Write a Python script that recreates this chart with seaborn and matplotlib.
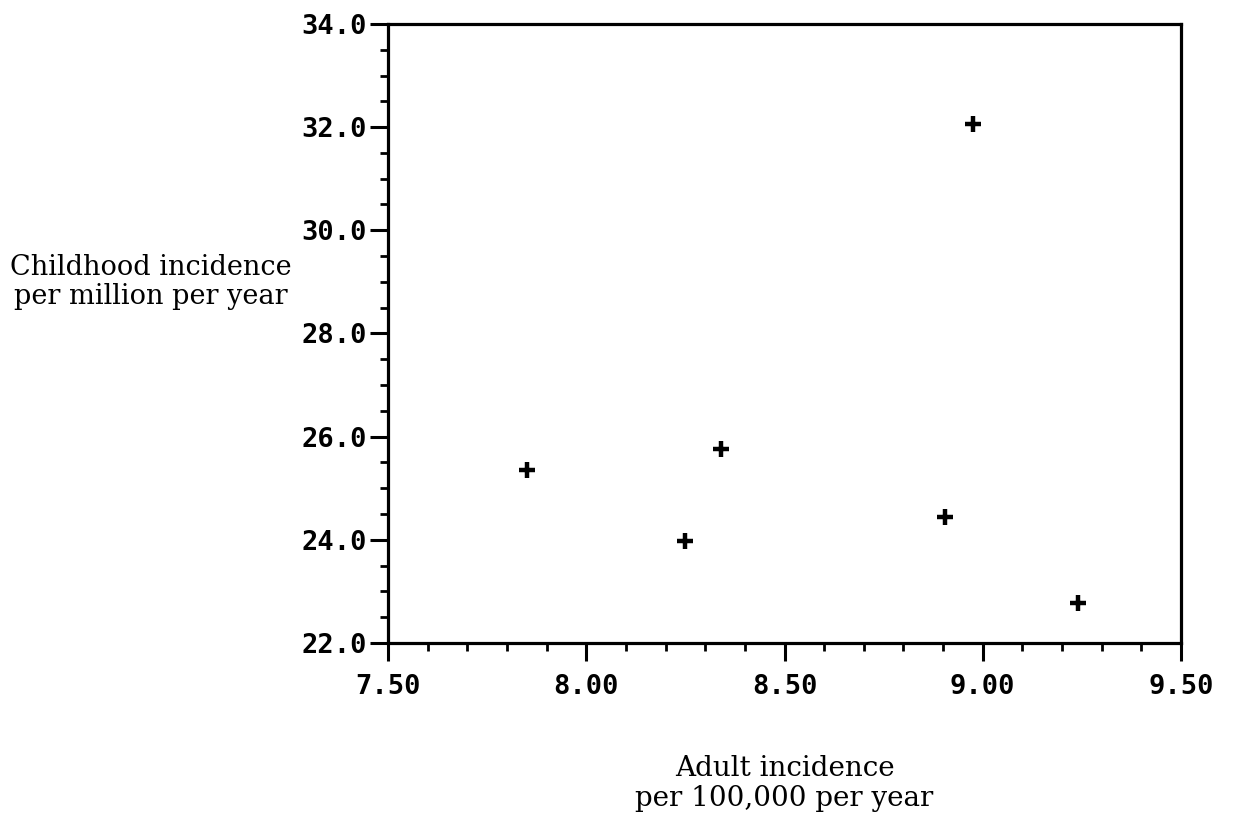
import matplotlib
matplotlib.use("Agg")
import matplotlib.pyplot as plt
import seaborn as sns
import pandas as pd
from matplotlib.ticker import MultipleLocator, FormatStrFormatter

# values
adult_incidence = [7.85, 8.25, 8.34, 8.905, 8.975, 9.24]
child_incidence = [25.35, 23.98, 25.76, 24.45, 32.06, 22.78]

x_label = "Adult incidence\nper 100,000 per year"
y_label = "Childhood incidence\nper million per year"

df = pd.DataFrame({"adult": adult_incidence, "child": child_incidence})

sns.set_style("ticks")
plt.rcParams["text.color"] = "black"
plt.rcParams["axes.labelcolor"] = "black"
plt.rcParams["xtick.color"] = "black"
plt.rcParams["ytick.color"] = "black"

fig = plt.figure(figsize=(12.37, 8.17), dpi=100)
ax = fig.add_axes([0.3137, 0.213, 0.6410, 0.7577])

sns.scatterplot(data=df, x="adult", y="child", marker="+", s=120,
                color="black", linewidth=3.2, ax=ax, legend=False)

ax.set_xlim(7.5, 9.5)
ax.set_ylim(22.0, 34.0)
ax.xaxis.set_major_locator(MultipleLocator(0.5))
ax.xaxis.set_minor_locator(MultipleLocator(0.1))
ax.yaxis.set_major_locator(MultipleLocator(2.0))
ax.yaxis.set_minor_locator(MultipleLocator(0.5))
ax.xaxis.set_major_formatter(FormatStrFormatter("%.2f"))
ax.yaxis.set_major_formatter(FormatStrFormatter("%.1f"))

for sp in ax.spines.values():
    sp.set_visible(True)
    sp.set_linewidth(2.3)
    sp.set_color("black")

ax.tick_params(which="major", direction="out", length=13, width=2.2,
               color="black", labelcolor="black", pad=2)
ax.tick_params(which="minor", direction="out", length=6, width=2.0,
               color="black")
ax.tick_params(axis="x", which="major", pad=9)
ax.tick_params(top=False, right=False, which="both")

for lab in ax.get_xticklabels() + ax.get_yticklabels():
    lab.set_fontfamily("DejaVu Sans Mono")
    lab.set_fontweight("bold")
    lab.set_fontsize(19.5)
    lab.set_color("black")

ax.set_xlabel(x_label, fontfamily="DejaVu Serif", fontsize=20,
              linespacing=1.1, va="center", color="black")
ax.xaxis.set_label_coords(0.5, -0.227)
ax.set_ylabel(y_label, fontfamily="DejaVu Serif", fontsize=19.5,
              rotation=0, ha="right", va="center", multialignment="center",
              linespacing=1.1, color="black")
ax.yaxis.set_label_coords(-0.121, 0.583)

plt.savefig("out.png", dpi=100)
plt.close()
